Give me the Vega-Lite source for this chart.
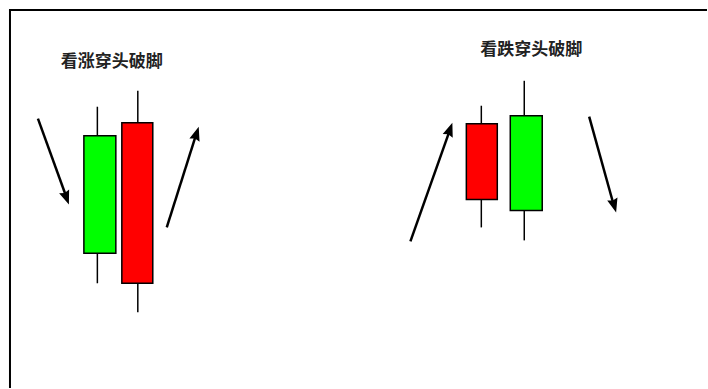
{
  "$schema": "https://vega.github.io/schema/vega-lite/v6.json",
  "width": 708,
  "height": 389,
  "padding": 0,
  "autosize": {"type": "fit", "contains": "padding"},
  "background": "white",
  "config": {"view": {"stroke": null}},
  "datasets": {
    "border": [
      {"x": 9, "y": 10, "x2": 708, "y2": 10},
      {"x": 10, "y": 10, "x2": 10, "y2": 389}
    ],
    "candles": [
      {"xc": 97.5, "xl": 84, "xr": 116, "top": 136, "bottom": 254, "high": 107, "low": 284, "color": "green"},
      {"xc": 138, "xl": 122, "xr": 153, "top": 123, "bottom": 284, "high": 91, "low": 313, "color": "red"},
      {"xc": 482, "xl": 467, "xr": 498, "top": 124, "bottom": 200, "high": 106, "low": 228, "color": "red"},
      {"xc": 525, "xl": 511, "xr": 543, "top": 116, "bottom": 211, "high": 81, "low": 241, "color": "green"}
    ],
    "arrows": [
      {"x0": 38, "y0": 119, "x1": 67, "y1": 199, "tx": 69, "ty": 205, "angle": 160},
      {"x0": 167, "y0": 228, "x1": 197, "y1": 133, "tx": 199, "ty": 127, "angle": 17.6},
      {"x0": 411, "y0": 242, "x1": 451, "y1": 129, "tx": 453, "ty": 123, "angle": 19.4},
      {"x0": 590, "y0": 117, "x1": 615, "y1": 207, "tx": 617, "ty": 213, "angle": 164.3}
    ],
    "titles": [
      {"x": 112, "y": 62, "label": "看涨穿头破脚"},
      {"x": 532, "y": 50, "label": "看跌穿头破脚"}
    ]
  },
  "layer": [
    {
      "data": {"name": "border"},
      "mark": {"type": "rule", "color": "black", "strokeWidth": 2},
      "encoding": {
        "x": {"field": "x", "type": "quantitative", "scale": {"domain": [0, 708], "nice": false, "zero": false}, "axis": null},
        "y": {"field": "y", "type": "quantitative", "scale": {"domain": [0, 389], "nice": false, "zero": false, "reverse": true}, "axis": null},
        "x2": {"field": "x2"},
        "y2": {"field": "y2"}
      }
    },
    {
      "data": {"name": "candles"},
      "mark": {"type": "rule", "color": "black", "strokeWidth": 1.5},
      "encoding": {
        "x": {"field": "xc", "type": "quantitative"},
        "y": {"field": "high", "type": "quantitative"},
        "y2": {"field": "low"}
      }
    },
    {
      "data": {"name": "candles"},
      "mark": {"type": "rect", "stroke": "black", "strokeWidth": 1.5},
      "encoding": {
        "x": {"field": "xl", "type": "quantitative"},
        "x2": {"field": "xr"},
        "y": {"field": "top", "type": "quantitative"},
        "y2": {"field": "bottom"},
        "fill": {"field": "color", "type": "nominal", "scale": {"domain": ["green", "red"], "range": ["#00ff00", "#ff0000"]}, "legend": null}
      }
    },
    {
      "data": {"name": "arrows"},
      "mark": {"type": "rule", "color": "black", "strokeWidth": 2.5},
      "encoding": {
        "x": {"field": "x0", "type": "quantitative"},
        "y": {"field": "y0", "type": "quantitative"},
        "x2": {"field": "x1"},
        "y2": {"field": "y1"}
      }
    },
    {
      "data": {"name": "arrows"},
      "mark": {"type": "point", "filled": true, "color": "black", "opacity": 1, "shape": "M0,0L0.38,1L0,0.88L-0.38,1Z", "size": 784},
      "encoding": {
        "x": {"field": "tx", "type": "quantitative"},
        "y": {"field": "ty", "type": "quantitative"},
        "angle": {"field": "angle", "type": "quantitative", "scale": null}
      }
    },
    {
      "data": {"name": "titles"},
      "mark": {"type": "text", "font": "Noto Sans CJK SC", "fontWeight": "bold", "fontSize": 17, "color": "#222222", "align": "center", "baseline": "middle"},
      "encoding": {
        "x": {"field": "x", "type": "quantitative"},
        "y": {"field": "y", "type": "quantitative"},
        "text": {"field": "label", "type": "nominal"}
      }
    }
  ]
}
